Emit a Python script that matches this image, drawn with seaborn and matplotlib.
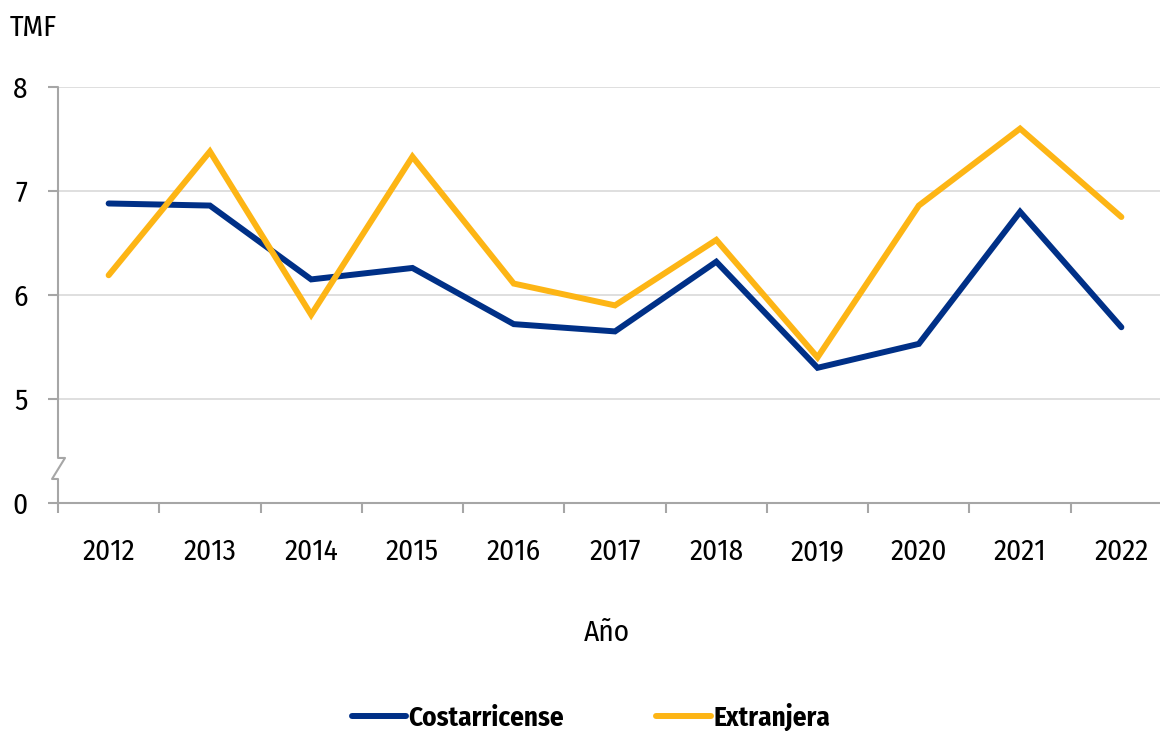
import pandas as pd
import numpy as np
import matplotlib.pyplot as plt
import matplotlib.transforms as mtransforms
import seaborn as sns

# ==============================
# Data
# ==============================
years = ["2012", "2013", "2014", "2015", "2016", "2017", "2018", "2019", "2020", "2021", "2022"]
costarricense = [6.88, 6.86, 6.15, 6.26, 5.72, 5.65, 6.32, 5.30, 5.53, 6.80, 5.69]
extranjera = [6.19, 7.38, 5.81, 7.33, 6.11, 5.90, 6.53, 5.40, 6.86, 7.60, 6.75]
ytick_vals = [4, 5, 6, 7, 8]          # 4 is shown as "0" (broken axis)
ytick_labels = ["0", "5", "6", "7", "8"]

df = pd.DataFrame({
    "pos": list(range(len(years))) * 2,
    "TMF": costarricense + extranjera,
    "Nacionalidad": ["Costarricense"] * len(years) + ["Extranjera"] * len(years),
})

# ==============================
# Style
# ==============================
sns.set_style("white")
plt.rcParams['font.family'] = ['Fira Sans Condensed', 'Open Sans Condensed',
                               'Roboto Condensed', 'Roboto', 'DejaVu Sans']
plt.rcParams['text.color'] = 'black'
plt.rcParams['xtick.color'] = 'black'
plt.rcParams['ytick.color'] = 'black'
font_size = 21
grey_axis = "#a6a6a6"

fig = plt.figure(figsize=(11.6, 7.31), dpi=100)
ax = fig.add_axes([58 / 1160, 1 - 503 / 731, 1114 / 1160, 416 / 731])

sns.lineplot(data=df, x="pos", y="TMF", hue="Nacionalidad",
             palette={"Costarricense": "#003087", "Extranjera": "#FDB515"},
             linewidth=4.3, ax=ax, legend=True)
for ln in ax.get_lines():
    ln.set_solid_capstyle("round")
    ln.set_solid_joinstyle("miter")

ax.set_xlim(-0.5, len(years) - 0.5)
ax.set_ylim(4, 8)

# gridlines
for v in ytick_vals[1:]:
    ax.axhline(v, color="#d9d9d9", lw=1.2, zorder=0)

# x ticks: labels at centres, marks at boundaries
ax.set_xticks(range(len(years)))
ax.set_xticklabels(years, fontsize=font_size)
ax.set_xticks(np.arange(-0.5, len(years) - 0.5, 1), minor=True)
ax.tick_params(axis="x", which="major", length=0, pad=25)
ax.tick_params(axis="x", which="minor", length=7, width=1.5, color=grey_axis, direction="out", bottom=True)

ax.set_yticks(ytick_vals)
ax.set_yticklabels(ytick_labels, fontsize=font_size)
ax.tick_params(axis="y", length=7, width=1.5, color=grey_axis, direction="out", left=True, pad=15)

ax.set_xlabel("")
ax.set_ylabel("")
for s in ["top", "right", "left"]:
    ax.spines[s].set_visible(False)
ax.spines["bottom"].set_color(grey_axis)
ax.spines["bottom"].set_linewidth(1.5)

# left spine with break marks
tr = mtransforms.blended_transform_factory(ax.transAxes, ax.transData)
dx = 7 / 1114
xs = [0, 0, dx, -0.85 * dx, 0, 0]
ys = [8, 4.433, 4.433, 4.231, 4.231, 4]
ax.plot(xs, ys, color=grey_axis, lw=1.5, transform=tr, clip_on=False, zorder=5)

# texts
fig.text(10 / 1160, 1 - 28 / 731, "TMF", fontsize=font_size, ha="left", va="center")
fig.text(607 / 1160, 1 - 633 / 731, "Año", fontsize=font_size, ha="center", va="center")

ax.get_legend().remove()
handles = ax.get_lines()[:2]
leg = fig.legend(handles, ["Costarricense", "Extranjera"], loc="center",
                 bbox_to_anchor=(591 / 1160, 1 - 717 / 731), ncol=2, frameon=False,
                 handlelength=2.0, handletextpad=0.1, columnspacing=3.4,
                 prop={"size": 19.5, "weight": "bold"})

fig.savefig("out.png", dpi=100)
